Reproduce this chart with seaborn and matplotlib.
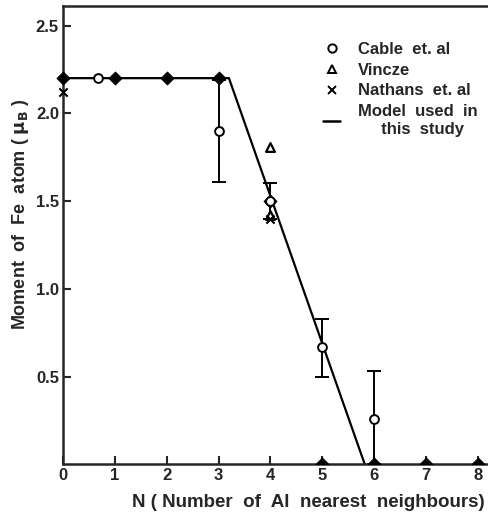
import numpy as np
import pandas as pd
import seaborn as sns
import matplotlib.pyplot as plt
from matplotlib.lines import Line2D

# model curve (flat then linear drop to zero)
model_n = [0, 3.2, 5.82]
model_m = [2.2, 2.2, 0.0]

# model points at integer N
filled_n = [0, 1, 2, 3, 4]
filled_m = [2.2, 2.2, 2.2, 2.2, 1.5]
zero_n = [5, 6, 7, 8]
zero_m = [0.0, 0.0, 0.0, 0.0]

# Cable et al. (open circles) with error bars
cable_n = [0.67, 3, 4, 5, 6]
cable_m = [2.2, 1.90, 1.50, 0.67, 0.26]
cable_lo = [0.0, 0.29, 0.10, 0.17, 0.26]
cable_hi = [0.0, 0.29, 0.10, 0.16, 0.27]

# Vincze (triangles)
vincze_n = [4, 4]
vincze_m = [1.81, 1.42]

# Nathans et al. (crosses)
nathans_n = [0, 4]
nathans_m = [2.12, 1.40]


def main():
    sns.set_style("ticks")
    plt.rcParams['font.family'] = ['Liberation Sans', 'DejaVu Sans']
    plt.rcParams['font.weight'] = 'bold'

    fig = plt.figure(figsize=(4.89, 5.17), dpi=100)
    ax = fig.add_axes([0.129, 0.102, 0.866, 0.886])

    sns.lineplot(x=model_n, y=model_m, color='black', linewidth=1.6, ax=ax, sort=False)
    sns.scatterplot(x=filled_n, y=filled_m, marker='D', s=45, color='black',
                    edgecolor='black', ax=ax, zorder=3, clip_on=False)
    sns.scatterplot(x=zero_n, y=zero_m, marker='D', s=45, color='black',
                    edgecolor='black', ax=ax, zorder=3)

    ax.errorbar(cable_n, cable_m, yerr=[cable_lo, cable_hi], fmt='none',
                ecolor='black', elinewidth=1.4, capsize=5, capthick=1.4, zorder=2)
    sns.scatterplot(x=cable_n, y=cable_m, marker='o', s=40, facecolor='white',
                    edgecolor='black', linewidth=1.4, ax=ax, zorder=4)
    sns.scatterplot(x=vincze_n, y=vincze_m, marker='^', s=40, facecolor='white',
                    edgecolor='black', linewidth=1.6, ax=ax, zorder=4)
    sns.scatterplot(x=nathans_n, y=nathans_m, marker='x', s=35, color='black',
                    linewidth=1.5, ax=ax, zorder=4, clip_on=False)

    ax.set_xlim(0, 8.17)
    ax.set_ylim(0, 2.61)
    ax.set_xticks(range(0, 9))
    ax.set_yticks([0.5, 1.0, 1.5, 2.0, 2.5])
    ax.set_yticklabels(['0.5', '1.0', '1.5', '2.0', '2.5'])
    ax.tick_params(direction='in', length=6, width=1.5, labelsize=12, pad=3)

    for side in ['left', 'bottom', 'top']:
        ax.spines[side].set_linewidth(1.8)
    ax.spines['right'].set_visible(False)

    ax.set_xlabel('N ( Number  of  Al  nearest  neighbours)', fontsize=13.5,
                  fontweight='bold')
    ax.set_ylabel(r'Moment  of  Fe  atom ( $\mathbf{\mu_B}$ )', fontsize=13,
                  fontweight='bold')
    ax.xaxis.set_label_coords(0.58, -0.065)
    ax.yaxis.set_label_coords(-0.075, 0.545)

    handles = [
        Line2D([], [], marker='o', linestyle='none', markerfacecolor='white',
               markeredgecolor='black', markersize=6, markeredgewidth=1.4),
        Line2D([], [], marker='^', linestyle='none', markerfacecolor='white',
               markeredgecolor='black', markersize=6, markeredgewidth=1.4),
        Line2D([], [], marker='x', linestyle='none', color='black',
               markersize=6, markeredgewidth=1.4),
        Line2D([], [], color='black', linewidth=1.8),
    ]
    labels = ['Cable  et. al', 'Vincze', 'Nathans  et. al',
              'Model  used  in\n     this  study']
    ax.legend(handles, labels, frameon=False, loc='upper right',
              bbox_to_anchor=(1.015, 0.955), handlelength=1.0, handletextpad=1.1,
              labelspacing=0.35, fontsize=12)

    fig.savefig('out.png', dpi=100)


if __name__ == "__main__":
    main()
